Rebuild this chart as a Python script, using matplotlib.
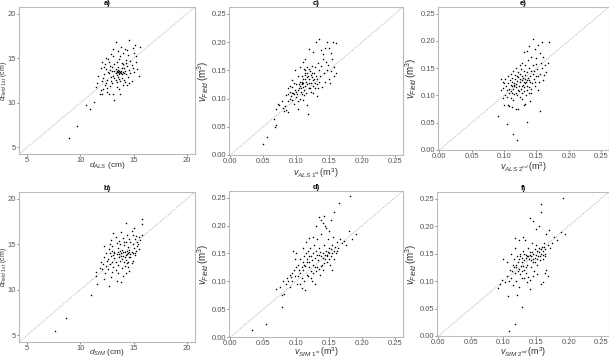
import matplotlib
matplotlib.use('Agg')
import matplotlib.pyplot as plt

plt.rcParams['font.family'] = ['Liberation Sans', 'DejaVu Sans']
plt.rcParams['mathtext.fontset'] = 'custom'
plt.rcParams['mathtext.rm'] = 'Liberation Sans'
plt.rcParams['mathtext.it'] = 'Liberation Sans:italic'

# a) d_ALS vs d_Field 1st (cm)
a_pts = [(8.9, 6.1), (9.7, 7.4), (10.5, 9.8), (10.9, 9.3), (11.3, 10.1), (11.8, 11.0), (12.0, 11.0),
         (12.5, 11.2), (12.7, 11.0), (13.1, 11.0), (13.2, 10.3), (13.7, 11.0), (11.9, 11.4), (11.5, 11.8),
         (12.3, 12.0), (12.8, 11.9), (13.4, 11.8), (14.0, 12.0), (11.6, 12.2), (12.0, 12.4), (12.5, 12.6),
         (12.9, 12.5), (13.3, 12.6), (13.7, 12.4), (14.2, 12.3), (14.8, 12.5), (11.7, 13.0), (12.2, 13.2),
         (12.7, 13.3), (13.1, 13.0), (13.5, 12.9), (13.9, 12.8), (14.5, 12.9), (15.5, 13.0), (13.0, 13.6),
         (13.4, 13.5), (13.7, 13.4), (13.3, 13.3), (13.6, 13.6), (13.8, 13.3), (14.0, 13.5), (14.3, 13.2),
         (12.4, 13.8), (11.9, 13.9), (13.5, 14.0), (14.1, 13.9), (14.6, 13.7), (15.3, 13.8), (12.8, 14.1),
         (13.2, 14.4), (13.9, 14.5), (14.8, 14.2), (12.3, 14.3), (12.0, 14.6), (12.6, 14.9), (13.6, 14.9),
         (14.3, 14.8), (15.2, 14.6), (13.1, 15.2), (14.5, 15.4), (12.9, 15.5), (14.0, 15.6), (15.0, 15.6),
         (13.5, 15.8), (14.2, 16.0), (14.9, 16.2), (15.6, 16.3), (13.8, 16.3), (15.1, 16.5), (13.3, 16.8),
         (14.6, 17.0), (13.4, 13.1), (13.6, 13.2), (13.8, 13.6), (13.5, 13.7), (13.3, 13.8), (13.9, 13.9),
         (14.2, 13.6), (14.4, 14.1), (13.0, 14.0), (12.6, 13.5), (12.9, 12.9), (13.2, 12.8), (13.6, 12.7),
         (14.1, 12.6), (14.7, 13.3), (15.0, 13.4), (12.1, 12.8), (12.4, 12.2), (13.0, 12.2), (13.4, 12.3),
         (14.4, 12.0), (14.9, 13.9), (12.2, 14.0), (12.7, 14.6), (13.4, 14.6), (14.0, 14.3), (14.7, 14.7),
         (15.2, 15.2), (13.7, 15.3), (12.4, 15.0), (13.1, 16.0), (14.4, 15.9), (13.5, 13.4), (13.7, 13.5),
         (13.6, 13.3), (13.4, 13.6), (13.9, 13.2), (14.1, 13.3), (13.2, 13.6), (12.8, 13.7), (14.3, 14.5),
         (12.5, 11.7), (13.6, 11.6), (12.1, 11.6), (14.6, 12.2)]

# b) d_SfM vs d_Field 1st (cm)
b_pts = [(7.6, 5.5), (8.7, 6.9), (11.0, 9.4), (11.6, 10.6), (12.7, 10.4), (12.2, 11.2), (11.5, 11.5),
         (11.5, 12.0), (12.0, 12.3), (12.4, 12.6), (12.9, 11.4), (13.4, 11.0), (13.8, 10.8), (14.3, 11.8),
         (14.6, 12.1), (12.8, 12.8), (13.1, 12.5), (13.3, 13.0), (13.5, 12.7), (13.7, 13.2), (13.9, 12.4),
         (14.1, 13.0), (14.3, 13.3), (14.5, 13.1), (14.7, 13.6), (14.9, 13.2), (15.1, 13.8), (12.6, 13.4),
         (12.9, 13.7), (13.2, 13.5), (13.4, 13.9), (13.6, 13.6), (13.8, 14.0), (14.0, 13.7), (14.2, 14.2),
         (14.4, 13.9), (14.6, 14.4), (14.8, 14.1), (15.0, 14.6), (15.2, 14.3), (15.4, 15.0), (15.6, 15.5),
         (15.8, 16.0), (12.4, 14.0), (12.7, 14.5), (13.0, 14.8), (13.2, 14.2), (13.5, 14.6), (13.7, 15.0),
         (13.9, 14.4), (14.1, 14.9), (14.3, 15.2), (14.5, 14.7), (14.7, 15.3), (14.9, 15.0), (15.1, 15.6),
         (15.3, 15.3), (12.2, 14.8), (12.9, 15.5), (13.3, 15.8), (13.6, 15.4), (14.0, 15.7), (14.4, 16.0),
         (14.8, 16.5), (15.0, 16.8), (15.5, 15.8), (14.3, 17.3), (15.8, 17.8), (15.8, 17.2), (13.8, 16.3),
         (13.1, 16.2), (12.5, 13.2), (12.1, 12.8), (11.8, 12.4), (13.0, 13.1), (13.3, 12.2), (13.9, 13.4),
         (14.2, 12.6), (14.4, 12.9), (14.6, 13.6), (14.8, 12.9), (14.9, 14.0), (15.1, 14.0), (15.3, 14.8),
         (15.5, 14.5), (13.6, 13.9), (13.8, 13.7), (14.0, 14.1), (14.2, 13.6), (14.4, 14.3), (14.5, 14.0),
         (14.6, 14.2), (14.7, 13.9), (14.3, 13.8), (13.5, 14.2), (13.7, 14.3), (13.1, 13.8), (12.8, 14.0),
         (12.6, 12.3), (13.0, 12.0), (13.5, 11.8), (14.0, 11.5), (14.5, 12.5), (12.3, 11.8), (14.1, 15.2),
         (13.4, 15.1), (12.8, 15.0), (14.6, 15.6), (15.2, 15.9), (14.9, 16.0), (13.0, 14.3), (11.9, 13.0),
         (12.2, 13.6), (13.2, 14.0)]

# c) v_ALS 1st vs v_Field (m3)
c_pts = [(0.049, 0.019), (0.056, 0.031), (0.068, 0.050), (0.069, 0.053), (0.066, 0.064), (0.069, 0.081),
         (0.072, 0.091), (0.074, 0.088), (0.078, 0.095), (0.080, 0.083), (0.082, 0.078), (0.083, 0.086),
         (0.085, 0.080), (0.087, 0.076), (0.088, 0.096), (0.090, 0.100), (0.092, 0.105), (0.094, 0.098),
         (0.095, 0.110), (0.097, 0.090), (0.098, 0.115), (0.100, 0.125), (0.101, 0.108), (0.103, 0.082),
         (0.104, 0.118), (0.105, 0.130), (0.106, 0.122), (0.107, 0.112), (0.108, 0.140), (0.109, 0.128),
         (0.110, 0.120), (0.111, 0.135), (0.112, 0.115), (0.113, 0.145), (0.114, 0.150), (0.115, 0.130),
         (0.116, 0.155), (0.117, 0.125), (0.118, 0.140), (0.119, 0.118), (0.120, 0.135), (0.121, 0.148),
         (0.122, 0.128), (0.123, 0.112), (0.124, 0.138), (0.125, 0.122), (0.126, 0.132), (0.127, 0.145),
         (0.128, 0.118), (0.130, 0.140), (0.131, 0.105), (0.132, 0.125), (0.134, 0.150), (0.135, 0.130),
         (0.137, 0.158), (0.139, 0.120), (0.140, 0.170), (0.142, 0.145), (0.144, 0.190), (0.146, 0.200),
         (0.148, 0.160), (0.150, 0.135), (0.152, 0.148), (0.154, 0.170), (0.156, 0.200), (0.158, 0.155),
         (0.160, 0.145), (0.161, 0.198), (0.118, 0.072), (0.116, 0.088), (0.110, 0.098), (0.093, 0.120),
         (0.090, 0.112), (0.085, 0.106), (0.087, 0.118), (0.098, 0.150), (0.102, 0.140), (0.105, 0.155),
         (0.110, 0.165), (0.113, 0.170), (0.120, 0.188), (0.126, 0.182), (0.130, 0.200), (0.135, 0.206),
         (0.138, 0.185), (0.141, 0.178), (0.145, 0.165), (0.150, 0.190), (0.153, 0.180), (0.133, 0.162),
         (0.128, 0.155), (0.124, 0.158), (0.119, 0.152), (0.114, 0.142), (0.112, 0.152), (0.108, 0.130),
         (0.104, 0.125), (0.100, 0.112), (0.096, 0.128), (0.094, 0.133), (0.091, 0.122), (0.088, 0.108),
         (0.099, 0.102), (0.102, 0.095), (0.106, 0.100), (0.109, 0.108), (0.115, 0.110), (0.121, 0.118),
         (0.125, 0.110), (0.129, 0.128), (0.133, 0.118), (0.136, 0.140), (0.143, 0.130), (0.147, 0.150),
         (0.151, 0.128), (0.157, 0.140), (0.117, 0.138), (0.119, 0.128), (0.113, 0.122), (0.111, 0.128),
         (0.107, 0.118), (0.103, 0.115), (0.097, 0.108), (0.093, 0.110), (0.124, 0.145), (0.127, 0.135),
         (0.131, 0.135), (0.122, 0.142), (0.116, 0.145), (0.114, 0.135), (0.108, 0.125), (0.112, 0.106)]

# d) v_SfM 1st vs v_Field (m3)
d_pts = [(0.033, 0.012), (0.054, 0.023), (0.079, 0.054), (0.070, 0.087), (0.075, 0.090), (0.078, 0.075),
         (0.082, 0.078), (0.085, 0.095), (0.088, 0.100), (0.090, 0.090), (0.092, 0.108), (0.094, 0.100),
         (0.096, 0.120), (0.098, 0.110), (0.100, 0.125), (0.101, 0.095), (0.103, 0.130), (0.105, 0.115),
         (0.106, 0.140), (0.108, 0.105), (0.110, 0.135), (0.111, 0.120), (0.112, 0.145), (0.113, 0.085),
         (0.114, 0.128), (0.115, 0.150), (0.116, 0.112), (0.117, 0.140), (0.118, 0.155), (0.119, 0.125),
         (0.120, 0.135), (0.121, 0.160), (0.122, 0.118), (0.123, 0.145), (0.124, 0.100), (0.125, 0.150),
         (0.126, 0.130), (0.127, 0.165), (0.128, 0.142), (0.129, 0.095), (0.130, 0.155), (0.131, 0.125),
         (0.132, 0.175), (0.133, 0.138), (0.134, 0.148), (0.135, 0.160), (0.136, 0.112), (0.137, 0.145),
         (0.138, 0.185), (0.139, 0.130), (0.140, 0.150), (0.141, 0.120), (0.142, 0.165), (0.143, 0.140),
         (0.144, 0.200), (0.145, 0.155), (0.146, 0.135), (0.147, 0.148), (0.148, 0.175), (0.149, 0.160),
         (0.150, 0.150), (0.151, 0.130), (0.152, 0.210), (0.153, 0.145), (0.154, 0.165), (0.155, 0.120),
         (0.156, 0.180), (0.157, 0.155), (0.158, 0.225), (0.159, 0.162), (0.160, 0.150), (0.162, 0.170),
         (0.164, 0.160), (0.165, 0.240), (0.167, 0.175), (0.170, 0.168), (0.173, 0.172), (0.176, 0.165),
         (0.180, 0.190), (0.182, 0.253), (0.185, 0.175), (0.190, 0.185), (0.095, 0.155), (0.100, 0.150),
         (0.110, 0.160), (0.115, 0.170), (0.120, 0.178), (0.125, 0.180), (0.130, 0.200), (0.135, 0.215),
         (0.140, 0.205), (0.145, 0.195), (0.150, 0.190), (0.142, 0.218), (0.138, 0.210), (0.112, 0.100),
         (0.108, 0.088), (0.105, 0.095), (0.102, 0.110), (0.118, 0.110), (0.122, 0.105), (0.126, 0.115),
         (0.130, 0.118), (0.134, 0.122), (0.138, 0.128), (0.142, 0.132), (0.146, 0.145), (0.150, 0.140),
         (0.154, 0.150), (0.158, 0.140), (0.162, 0.155), (0.128, 0.125), (0.132, 0.148), (0.136, 0.152),
         (0.140, 0.142), (0.144, 0.148), (0.148, 0.152), (0.152, 0.158), (0.124, 0.138), (0.120, 0.145),
         (0.116, 0.135), (0.112, 0.130), (0.108, 0.125), (0.104, 0.120), (0.098, 0.140), (0.094, 0.115),
         (0.090, 0.112), (0.086, 0.105), (0.080, 0.100)]

# e) v_ALS 2nd vs v_Field (m3)
e_pts = [(0.090, 0.062), (0.104, 0.048), (0.114, 0.030), (0.120, 0.018), (0.136, 0.052), (0.155, 0.072),
         (0.100, 0.082), (0.106, 0.082), (0.108, 0.080), (0.112, 0.078), (0.118, 0.076), (0.122, 0.075),
         (0.130, 0.082), (0.133, 0.085), (0.140, 0.090), (0.098, 0.095), (0.102, 0.100), (0.105, 0.098),
         (0.110, 0.095), (0.114, 0.092), (0.120, 0.100), (0.125, 0.097), (0.128, 0.093), (0.134, 0.100),
         (0.138, 0.104), (0.142, 0.105), (0.095, 0.110), (0.099, 0.113), (0.103, 0.118), (0.106, 0.122),
         (0.108, 0.112), (0.110, 0.120), (0.112, 0.118), (0.113, 0.125), (0.115, 0.119), (0.116, 0.123),
         (0.117, 0.130), (0.118, 0.115), (0.119, 0.121), (0.120, 0.127), (0.121, 0.110), (0.122, 0.133),
         (0.123, 0.118), (0.124, 0.124), (0.125, 0.140), (0.126, 0.112), (0.127, 0.128), (0.128, 0.135),
         (0.129, 0.120), (0.130, 0.145), (0.131, 0.115), (0.132, 0.130), (0.133, 0.138), (0.134, 0.125),
         (0.135, 0.142), (0.136, 0.118), (0.137, 0.132), (0.138, 0.150), (0.139, 0.128), (0.140, 0.136),
         (0.141, 0.112), (0.142, 0.145), (0.143, 0.122), (0.144, 0.140), (0.145, 0.155), (0.146, 0.130),
         (0.148, 0.118), (0.150, 0.135), (0.151, 0.148), (0.152, 0.110), (0.154, 0.125), (0.156, 0.140),
         (0.158, 0.150), (0.160, 0.128), (0.162, 0.138), (0.165, 0.142), (0.168, 0.160), (0.170, 0.198),
         (0.159, 0.198), (0.144, 0.204), (0.138, 0.190), (0.130, 0.180), (0.135, 0.182), (0.148, 0.185),
         (0.152, 0.192), (0.156, 0.178), (0.160, 0.170), (0.150, 0.168), (0.142, 0.170), (0.137, 0.165),
         (0.128, 0.160), (0.124, 0.155), (0.118, 0.150), (0.114, 0.145), (0.110, 0.140), (0.106, 0.135),
         (0.102, 0.130), (0.098, 0.125), (0.096, 0.130), (0.100, 0.122), (0.104, 0.110), (0.107, 0.105),
         (0.111, 0.108), (0.115, 0.102), (0.119, 0.105), (0.123, 0.108), (0.127, 0.104), (0.131, 0.108),
         (0.135, 0.110), (0.139, 0.115), (0.147, 0.125), (0.153, 0.135), (0.157, 0.160), (0.163, 0.155),
         (0.132, 0.155), (0.126, 0.148), (0.121, 0.142), (0.117, 0.138), (0.113, 0.132), (0.109, 0.128),
         (0.116, 0.118), (0.114, 0.112), (0.112, 0.105), (0.133, 0.122), (0.136, 0.128), (0.140, 0.124),
         (0.129, 0.132), (0.131, 0.125), (0.127, 0.118), (0.124, 0.130), (0.120, 0.135), (0.146, 0.145),
         (0.149, 0.158)]

# f) v_SfM 2nd vs v_Field (m3)
f_pts = [(0.109, 0.010), (0.118, 0.022), (0.128, 0.052), (0.121, 0.074), (0.107, 0.073), (0.092, 0.088),
         (0.095, 0.095), (0.098, 0.102), (0.102, 0.098), (0.105, 0.110), (0.108, 0.100), (0.110, 0.120),
         (0.112, 0.105), (0.114, 0.130), (0.115, 0.092), (0.116, 0.140), (0.117, 0.115), (0.118, 0.178),
         (0.119, 0.125), (0.120, 0.100), (0.121, 0.145), (0.122, 0.118), (0.123, 0.135), (0.124, 0.090),
         (0.125, 0.150), (0.126, 0.112), (0.127, 0.128), (0.128, 0.142), (0.129, 0.105), (0.130, 0.155),
         (0.131, 0.120), (0.132, 0.138), (0.133, 0.175), (0.134, 0.115), (0.135, 0.148), (0.136, 0.130),
         (0.137, 0.160), (0.138, 0.108), (0.139, 0.140), (0.140, 0.085), (0.141, 0.152), (0.142, 0.125),
         (0.143, 0.145), (0.144, 0.170), (0.145, 0.135), (0.146, 0.150), (0.147, 0.118), (0.148, 0.158),
         (0.149, 0.142), (0.150, 0.165), (0.151, 0.130), (0.152, 0.155), (0.153, 0.145), (0.154, 0.200),
         (0.155, 0.160), (0.156, 0.138), (0.157, 0.225), (0.157, 0.240), (0.158, 0.150), (0.159, 0.162),
         (0.160, 0.148), (0.161, 0.155), (0.162, 0.170), (0.163, 0.158), (0.164, 0.145), (0.165, 0.185),
         (0.166, 0.120), (0.168, 0.165), (0.170, 0.192), (0.172, 0.160), (0.175, 0.170), (0.178, 0.180),
         (0.182, 0.175), (0.188, 0.190), (0.192, 0.251), (0.195, 0.185), (0.100, 0.140), (0.105, 0.135),
         (0.112, 0.150), (0.118, 0.160), (0.124, 0.175), (0.130, 0.180), (0.140, 0.215), (0.145, 0.210),
         (0.150, 0.195), (0.158, 0.095), (0.160, 0.098), (0.164, 0.115), (0.168, 0.110), (0.152, 0.112),
         (0.146, 0.110), (0.140, 0.102), (0.136, 0.098), (0.132, 0.105), (0.128, 0.118), (0.124, 0.122),
         (0.120, 0.130), (0.116, 0.125), (0.113, 0.118), (0.134, 0.142), (0.138, 0.146), (0.142, 0.138),
         (0.146, 0.140), (0.150, 0.148), (0.154, 0.152), (0.158, 0.158), (0.162, 0.162), (0.144, 0.152),
         (0.140, 0.148), (0.136, 0.145), (0.132, 0.150), (0.128, 0.135), (0.124, 0.140), (0.148, 0.135),
         (0.152, 0.140), (0.156, 0.145), (0.160, 0.140), (0.164, 0.150), (0.134, 0.125), (0.130, 0.128),
         (0.126, 0.145)]

d_ticks = [5, 10, 15, 20]
v_ticks = [0.00, 0.05, 0.10, 0.15, 0.20, 0.25]

# title, points, axes box (pixels: left, top, right, bottom), xlabel, ylabel, kind,
# xlabel bottom (px), ylabel right edge (px)
panels = [
    ('a)', a_pts, (19, 7, 195, 154), r'$d_{ALS}$ (cm)', r'$d_{Field\ 1st}$ (cm)', 'd', 171, 9.5),
    ('c)', c_pts, (229, 7, 403, 155), r'$v_{ALS\ 1^{st}}\,(\mathrm{m}^3)$', r'$v_{Field}\,(\mathrm{m}^3)$', 'v', 180, 211),
    ('e)', e_pts, (438, 7, 609, 150), r'$v_{ALS\ 2^{nd}}\,(\mathrm{m}^3)$', r'$v_{Field}\,(\mathrm{m}^3)$', 'v', 174, 419),
    ('b)', b_pts, (19, 192, 195, 342), r'$d_{SfM}$ (cm)', r'$d_{Field\ 1st}$ (cm)', 'd', 358, 9.5),
    ('d)', d_pts, (229, 191, 403, 337), r'$v_{SfM\ 1^{st}}\,(\mathrm{m}^3)$', r'$v_{Field}\,(\mathrm{m}^3)$', 'v', 359, 211),
    ('f)', f_pts, (437, 192, 609, 336), r'$v_{SfM\ 2^{nd}}\,(\mathrm{m}^3)$', r'$v_{Field}\,(\mathrm{m}^3)$', 'v', 359, 419),
]

W, H = 609, 359
fig = plt.figure(figsize=(6.09, 3.59), dpi=100)
for title, pts, box, xl, yl, kind, xl_bot, yl_right in panels:
    l, t, r, b = box
    ax = fig.add_axes([l / W, 1 - b / H, (r - l) / W, (b - t) / H])
    xs = [p[0] for p in pts]
    ys = [p[1] for p in pts]
    ax.axline((0, 0), slope=1, ls=(0, (1, 1.5)), color='#999999', lw=0.6, zorder=1)
    ax.scatter(xs, ys, s=1.2, color='black', linewidths=0, zorder=2)
    if kind == 'd':
        ax.set_xlim(4.25, 20.75)
        ax.set_ylim(4.25, 20.75)
        ax.set_xticks(d_ticks)
        ax.set_yticks(d_ticks)
        fx, fy = 6, 5
    else:
        ax.set_xlim(-0.002, 0.262)
        ax.set_ylim(0, 0.262)
        ax.set_xticks(v_ticks)
        ax.set_yticks(v_ticks)
        ax.set_xticklabels(['%.2f' % v for v in v_ticks])
        ax.set_yticklabels(['%.2f' % v for v in v_ticks])
        fx, fy = 6.5, 7
    ax.set_xlabel(xl, fontsize=fx, color='#333333')
    ax.set_ylabel(yl, fontsize=fy, color='#333333')
    ax.xaxis.set_label_coords(0.5, (b - xl_bot) / (b - t))
    ax.xaxis.label.set_verticalalignment('bottom')
    ax.yaxis.set_label_coords((yl_right - l) / (r - l), 0.5)
    ax.set_title(title, fontsize=5.5, fontweight='bold', pad=1.5)
    ax.tick_params(labelsize=5.5, colors='#555555', length=1.5, width=0.5, pad=0.5)
    for sp in ax.spines.values():
        sp.set_color('#bbbbbb')
        sp.set_linewidth(0.8)

fig.savefig('out.png', dpi=100)
